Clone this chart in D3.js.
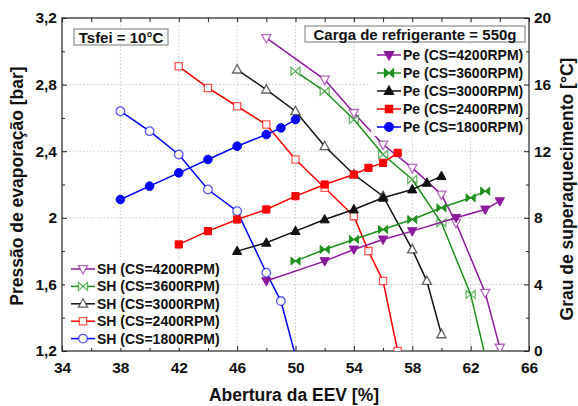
<!DOCTYPE html>
<meta charset="utf-8">
<style>
body { margin: 0; background: #fff; }
text { font-family: Arial, "Liberation Sans", sans-serif; font-weight: bold; }
.tick line { stroke: #222; }
.tick text { font-size: 15.5px; fill: #111; }
</style>
<body>
<script src="https://d3js.org/d3.v7.min.js"></script>
<script>

// Pe [bar] (left axis) and SH [°C] (right axis) vs EEV opening [%]
var rpm = ["4200", "3600", "3000", "2400", "1800"];

var peX_4200 = [48, 52, 54, 56, 58, 61, 63, 64];
var pe_4200  = [1.62, 1.74, 1.81, 1.87, 1.92, 2.00, 2.05, 2.10];
var shX_4200 = [48, 52, 54, 56, 58, 60, 61, 63, 64];
var sh_4200  = [18.8, 16.3, 14.3, 12.4, 11.0, 9.4, 7.7, 3.5, 0.2];

var peX_3600 = [50, 52, 54, 56, 58, 60, 62, 63];
var pe_3600  = [1.74, 1.81, 1.87, 1.93, 1.99, 2.06, 2.12, 2.16];
var shX_3600 = [50, 52, 54, 56, 58, 60, 62, 63];
var sh_3600  = [16.8, 15.6, 13.9, 11.8, 10.3, 7.7, 3.4, -0.3];

var peX_3000 = [46, 48, 50, 52, 54, 56, 58, 59, 60];
var pe_3000  = [1.80, 1.85, 1.92, 1.99, 2.05, 2.12, 2.17, 2.21, 2.25];
var shX_3000 = [46, 48, 50, 52, 54, 56, 58, 59, 60];
var sh_3000  = [16.9, 15.7, 14.4, 12.3, 10.6, 9.3, 6.1, 4.2, 1.0];

var peX_2400 = [42, 44, 46, 48, 50, 52, 54, 55, 56, 57];
var pe_2400  = [1.84, 1.92, 1.99, 2.05, 2.13, 2.20, 2.26, 2.30, 2.33, 2.39];
var shX_2400 = [42, 44, 46, 48, 50, 52, 54, 55, 56, 57];
var sh_2400  = [17.1, 15.8, 14.7, 13.6, 11.5, 9.8, 8.1, 6.0, 4.2, 0];

var peX_1800 = [38, 40, 42, 44, 46, 48, 49, 50];
var pe_1800  = [2.11, 2.19, 2.27, 2.35, 2.43, 2.50, 2.54, 2.59];
var shX_1800 = [38, 40, 42, 44, 46, 48, 49, 50];
var sh_1800  = [14.4, 13.2, 11.8, 9.7, 8.4, 4.7, 3.0, -0.3];

var xTicks = [34, 38, 42, 46, 50, 54, 58, 62, 66];
var peTicks = [1.2, 1.6, 2, 2.4, 2.8, 3.2];
var shTicks = [0, 4, 8, 12, 16, 20];

var colors = { "4200": "#8c1a9c", "3600": "#1f8f1f", "3000": "#111111", "2400": "#ff0000", "1800": "#0000ff" };
var shapes = { "4200": "down", "3600": "bowtie", "3000": "up", "2400": "square", "1800": "circle" };

var series = [
  { rpm: "4200", peX: peX_4200, pe: pe_4200, shX: shX_4200, sh: sh_4200 },
  { rpm: "3600", peX: peX_3600, pe: pe_3600, shX: shX_3600, sh: sh_3600 },
  { rpm: "3000", peX: peX_3000, pe: pe_3000, shX: shX_3000, sh: sh_3000 },
  { rpm: "2400", peX: peX_2400, pe: pe_2400, shX: shX_2400, sh: sh_2400 },
  { rpm: "1800", peX: peX_1800, pe: pe_1800, shX: shX_1800, sh: sh_1800 }
];

var margin = {top: 18, right: 49, bottom: 55, left: 62},
    width = 578 - margin.left - margin.right,
    height = 406 - margin.top - margin.bottom;

var x = d3.scaleLinear().domain([34, 66]).range([0, width]);
var yL = d3.scaleLinear().domain([1.2, 3.2]).range([height, 0]);
var yR = d3.scaleLinear().domain([0, 20]).range([height, 0]);

var comma = function(d) { return String(d).replace(".", ","); };

function markerPath(shape) {
  if (shape === "circle") return d3.symbol(d3.symbolCircle, 58)();
  if (shape === "square") return "M-3.6,-3.6h7.2v7.2h-7.2Z";
  if (shape === "up") return "M0,-5L4.6,3.4L-4.6,3.4Z";
  if (shape === "down") return "M0,5L4.6,-3.4L-4.6,-3.4Z";
  return "M-4.5,-4L4.5,4L4.5,-4L-4.5,4Z";
}

var svg = d3.select("body").append("svg")
    .attr("width", 578)
    .attr("height", 406)
  .append("g")
    .attr("transform", "translate(" + margin.left + "," + margin.top + ")");

svg.append("clipPath").attr("id", "plot-clip")
  .append("rect").attr("width", width).attr("height", height);

// grid
svg.selectAll(".gx").data(xTicks.slice(1, -1)).enter().append("line")
    .attr("x1", x).attr("x2", x).attr("y1", 0).attr("y2", height)
    .attr("stroke", "#c8c8c8").attr("stroke-dasharray", "1.5,2");
svg.selectAll(".gy").data(peTicks.slice(1, -1)).enter().append("line")
    .attr("x1", 0).attr("x2", width).attr("y1", yL).attr("y2", yL)
    .attr("stroke", "#c8c8c8").attr("stroke-dasharray", "1.5,2");

// axes (ticks point inward)
var minorX = d3.range(36, 66, 4), minorY = [1.4, 1.8, 2.2, 2.6, 3.0];

svg.append("g").attr("transform", "translate(0," + height + ")")
    .call(d3.axisBottom(x).tickValues(xTicks).tickSizeInner(-5).tickSizeOuter(0).tickPadding(11).tickFormat(comma));
svg.append("g").attr("transform", "translate(0," + height + ")")
    .call(d3.axisBottom(x).tickValues(minorX).tickSize(-3).tickFormat(""));
svg.append("g")
    .call(d3.axisTop(x).tickValues(xTicks.concat(minorX)).tickSize(-4).tickFormat(""));
svg.append("g")
    .call(d3.axisLeft(yL).tickValues(peTicks).tickSizeInner(-5).tickSizeOuter(0).tickPadding(5).tickFormat(comma));
svg.append("g")
    .call(d3.axisLeft(yL).tickValues(minorY).tickSize(-3).tickFormat(""));
svg.append("g").attr("transform", "translate(" + width + ",0)")
    .call(d3.axisRight(yR).tickValues(shTicks).tickSizeInner(-5).tickSizeOuter(0).tickPadding(5));
svg.append("g").attr("transform", "translate(" + width + ",0)")
    .call(d3.axisRight(yR).tickValues([2, 6, 10, 14, 18]).tickSize(-3).tickFormat(""));
svg.selectAll(".domain").remove();

svg.append("rect").attr("width", width).attr("height", height)
    .attr("fill", "none").attr("stroke", "#222").attr("stroke-width", 1.2);

// series
var plot = svg.append("g").attr("clip-path", "url(#plot-clip)");

var linePe = d3.line().x(function(d) { return x(d[0]); }).y(function(d) { return yL(d[1]); });
var lineSh = d3.line().x(function(d) { return x(d[0]); }).y(function(d) { return yR(d[1]); });

series.forEach(function(s) {
  var c = colors[s.rpm], shp = shapes[s.rpm];
  var shPts = d3.zip(s.shX, s.sh);
  plot.append("path").datum(shPts).attr("d", lineSh)
      .attr("fill", "none").attr("stroke", c).attr("stroke-width", 1.5);
  plot.selectAll(null).data(shPts).enter().append("path")
      .attr("d", markerPath(shp))
      .attr("transform", function(d) { return "translate(" + x(d[0]) + "," + yR(d[1]) + ")"; })
      .attr("fill", "#fff").attr("stroke", c).attr("stroke-opacity", 0.65).attr("stroke-width", 1.3);
});

series.forEach(function(s) {
  var c = colors[s.rpm], shp = shapes[s.rpm];
  var pePts = d3.zip(s.peX, s.pe);
  plot.append("path").datum(pePts).attr("d", linePe)
      .attr("fill", "none").attr("stroke", c).attr("stroke-width", 1.5);
  plot.selectAll(null).data(pePts).enter().append("path")
      .attr("d", markerPath(shp))
      .attr("transform", function(d) { return "translate(" + x(d[0]) + "," + yL(d[1]) + ")"; })
      .attr("fill", c).attr("stroke", c).attr("stroke-width", 1);
});

// legends
function legend(g, prefix, filled, x0, y0, dy, w, h) {
  g.append("rect").attr("x", x0 - 6).attr("y", y0 - 9).attr("width", w).attr("height", h).attr("fill", "#fff");
  rpm.forEach(function(r, i) {
    var yy = y0 + i * dy, c = colors[r];
    g.append("line").attr("x1", x0).attr("x2", x0 + 24).attr("y1", yy).attr("y2", yy)
        .attr("stroke", c).attr("stroke-width", 1.5);
    g.append("path").attr("d", markerPath(shapes[r]))
        .attr("transform", "translate(" + (x0 + 12) + "," + yy + ")")
        .attr("fill", filled ? c : "#fff").attr("stroke", c).attr("stroke-opacity", filled ? 1 : 0.65).attr("stroke-width", 1.3);
    g.append("text").attr("x", x0 + 26).attr("y", yy).attr("dy", "0.36em")
        .style("font-size", "14px").attr("fill", "#111")
        .text(prefix + " (CS=" + r + "RPM)");
  });
}
var lg = d3.select("svg").append("g");
legend(lg, "Pe", true, 377, 55, 18, 152, 90);
legend(lg, "SH", false, 71, 269, 17.4, 152, 88);

// annotation boxes
var root = d3.select("svg");
root.append("rect").attr("x", 74).attr("y", 29).attr("width", 94).attr("height", 16)
    .attr("fill", "#fff").attr("stroke", "#777");
root.append("text").attr("x", 121).attr("y", 42.5).attr("text-anchor", "middle")
    .style("font-size", "15px").attr("fill", "#111").text("Tsfei = 10°C");
root.append("rect").attr("x", 305).attr("y", 26).attr("width", 220).attr("height", 16)
    .attr("fill", "#fff").attr("stroke", "#777");
root.append("text").attr("x", 415).attr("y", 39.5).attr("text-anchor", "middle")
    .style("font-size", "15px").attr("fill", "#111").text("Carga de refrigerante = 550g");

// axis titles
root.append("text").attr("x", 294).attr("y", 401).attr("text-anchor", "middle")
    .style("font-size", "17.5px").attr("fill", "#111").text("Abertura da EEV [%]");
root.append("text").attr("transform", "translate(23,186) rotate(-90)").attr("text-anchor", "middle")
    .style("font-size", "17.5px").attr("fill", "#111").text("Pressão de evaporação [bar]");
root.append("text").attr("transform", "translate(573,189) rotate(-90)").attr("text-anchor", "middle")
    .style("font-size", "17.5px").attr("fill", "#111").text("Grau de superaquecimento [°C]");

</script>
</body>
